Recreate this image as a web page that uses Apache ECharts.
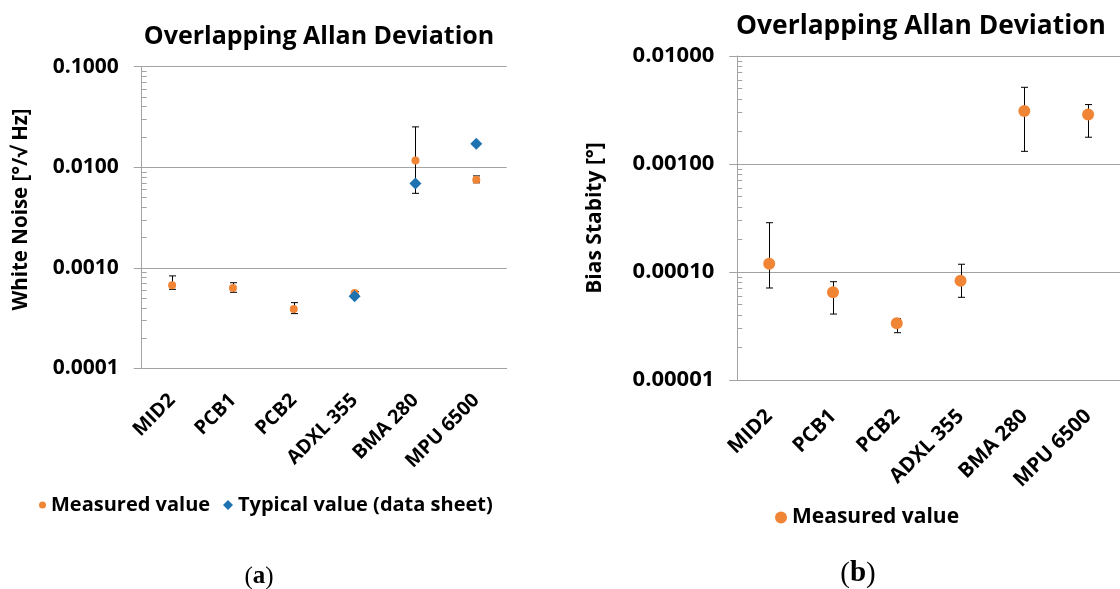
<!DOCTYPE html>
<html>
<head>
<meta charset="utf-8">
<script src="https://cdn.jsdelivr.net/npm/echarts@6/dist/echarts.min.js"></script>
<style>
html, body { margin: 0; padding: 0; background: #fff; }
#main { width: 1120px; height: 589px; }
</style>
</head>
<body>
<div id="main"></div>
<script>
var sensors = ['MID2', 'PCB1', 'PCB2', 'ADXL 355', 'BMA 280', 'MPU 6500'];

// (a) white noise
var noiseMeasured = [0.00067, 0.00063, 0.00039, 0.00056, 0.0117, 0.0075];
var noiseLow      = [0.00061, 0.00057, 0.00035, 0.00054, 0.0055, 0.0070];
var noiseHigh     = [0.00083, 0.00071, 0.00045, 0.00058, 0.0252, 0.0082];
var noiseTypical  = [null, null, null, 0.00052, 0.0069, 0.0171];
var noiseTicks    = [0.0001, 0.001, 0.01, 0.1];

// (b) bias stability
var biasMeasured = [0.000119, 0.0000648, 0.0000335, 0.0000831, 0.0031, 0.00288];
var biasLow      = [0.0000711, 0.0000408, 0.0000274, 0.0000583, 0.00131, 0.00177];
var biasHigh     = [0.000286, 0.0000813, 0.000037, 0.000118, 0.00513, 0.00355];
var biasTicks    = [0.00001, 0.0001, 0.001, 0.01];

var orange = '#F08536';
var blue = '#1F72B0';
var grey = '#A3A3A3';
var font = 'Open Sans';

function minorTicks(ticks) {
    var out = [];
    for (var i = 0; i < ticks.length - 1; i++) {
        for (var k = 2; k <= 9; k++) out.push(ticks[i] * k);
    }
    return out;
}

function errData(lo, hi) {
    return lo.map(function (v, i) { return [i, v, hi[i]]; });
}

function renderErr(params, api) {
    var a = api.coord([api.value(0), api.value(1)]);
    var b = api.coord([api.value(0), api.value(2)]);
    var x = Math.round(a[0]) + 0.5, w = 3.5;
    var st = { stroke: '#000', lineWidth: 1 };
    return {
        type: 'group',
        children: [
            { type: 'line', shape: { x1: x, y1: a[1], x2: x, y2: b[1] }, style: st },
            { type: 'line', shape: { x1: x - w, y1: a[1], x2: x + w, y2: a[1] }, style: st },
            { type: 'line', shape: { x1: x - w, y1: b[1], x2: x + w, y2: b[1] }, style: st }
        ]
    };
}

function xAxisFor(grid, size, margin) {
    return {
        type: 'category',
        gridIndex: grid,
        data: sensors,
        axisLine: { lineStyle: { color: grey } },
        axisTick: { length: 7, lineStyle: { color: grey } },
        axisLabel: {
            rotate: 45, margin: margin, interval: 0,
            color: '#000', fontFamily: font, fontWeight: 'bold', fontSize: size
        }
    };
}

function yAxisFor(grid, ticks, digits, size, name, nameSize, nameGap, namePad) {
    return {
        type: 'log', logBase: 10, gridIndex: grid,
        min: ticks[0], max: ticks[ticks.length - 1],
        name: name, nameLocation: 'middle', nameGap: nameGap,
        nameTextStyle: { color: '#000', fontFamily: font, fontWeight: 'bold', fontSize: nameSize, padding: namePad },
        axisLine: { show: true, lineStyle: { color: grey } },
        axisTick: { show: true, length: 8, customValues: ticks, lineStyle: { color: grey } },
        axisLabel: {
            customValues: ticks, margin: 23,
            color: '#000', fontFamily: font, fontWeight: 'bold', fontSize: size,
            formatter: function (v) { return Number(v).toFixed(digits); }
        },
        splitLine: { show: true, lineStyle: { color: grey, width: 1 } }
    };
}

function minorAxisFor(grid, ticks) {
    return {
        type: 'log', logBase: 10, gridIndex: grid, position: 'left',
        min: ticks[0], max: ticks[ticks.length - 1],
        axisLine: { show: false },
        axisLabel: { show: false },
        splitLine: { show: false },
        axisTick: { show: true, inside: true, length: 5, customValues: minorTicks(ticks), lineStyle: { color: grey } }
    };
}

var chart = echarts.init(document.getElementById('main'));
chart.setOption({
    animation: false,
    title: [
        { text: 'Overlapping Allan Deviation', left: 314, top: 19, textAlign: 'center',
          textStyle: { fontFamily: font, fontWeight: 'bold', fontSize: 25, color: '#000' } },
        { text: 'Overlapping Allan Deviation', left: 916, top: 8, textAlign: 'center',
          textStyle: { fontFamily: font, fontWeight: 'bold', fontSize: 26.4, color: '#000' } }
    ],
    legend: [
        { data: [{ name: 'Measured value', icon: 'circle', itemStyle: { color: orange } }],
          left: 34, top: 490, itemWidth: 7, itemHeight: 7,
          textStyle: { fontFamily: font, fontWeight: 'bold', fontSize: 20, color: '#000' } },
        { data: [{ name: 'Typical value (data sheet)', icon: 'diamond', itemStyle: { color: blue } }],
          left: 218, top: 490, itemWidth: 10, itemHeight: 10,
          textStyle: { fontFamily: font, fontWeight: 'bold', fontSize: 20, color: '#000' } },
        { data: [{ name: 'Measured value', icon: 'circle', itemStyle: { color: orange } }],
          left: 770, top: 502, itemWidth: 12, itemHeight: 12,
          textStyle: { fontFamily: font, fontWeight: 'bold', fontSize: 21, color: '#000' } }
    ],
    grid: [
        { left: 141.7, top: 66.7, width: 365, height: 301.6 },
        { left: 737.3, top: 56, width: 387.2, height: 324 }
    ],
    xAxis: [xAxisFor(0, 19.5, 29), xAxisFor(1, 20.5, 33)],
    yAxis: [
        yAxisFor(0, noiseTicks, 4, 21, 'White Noise [°/√ Hz]', 20.5, 110, [0, 0, 0, 16]),
        minorAxisFor(0, noiseTicks),
        yAxisFor(1, biasTicks, 5, 22, 'Bias Stabity [°]', 21, 132, 0),
        minorAxisFor(1, biasTicks)
    ],
    graphic: [
        { type: 'text', x: 259, y: 577, style: {
            text: '({b|a})', fill: '#000', font: '25px "Liberation Serif"',
            align: 'center', verticalAlign: 'middle',
            rich: { b: { fontFamily: 'Liberation Serif', fontWeight: 'bold', fontSize: 25 } } } },
        { type: 'text', x: 858, y: 574, style: {
            text: '({b|b})', fill: '#000', font: '29px "Liberation Serif"',
            align: 'center', verticalAlign: 'middle',
            rich: { b: { fontFamily: 'Liberation Serif', fontWeight: 'bold', fontSize: 29 } } } }
    ],
    series: [
        {
            type: 'custom', name: 'noise error', xAxisIndex: 0, yAxisIndex: 0,
            renderItem: renderErr, encode: { x: 0, y: [1, 2] },
            data: errData(noiseLow, noiseHigh), z: 2
        },
        {
            type: 'scatter', name: 'Measured value', xAxisIndex: 0, yAxisIndex: 0,
            symbol: 'circle', symbolSize: 8, itemStyle: { color: orange, opacity: 1 },
            data: noiseMeasured, z: 3
        },
        {
            type: 'scatter', name: 'Typical value (data sheet)', xAxisIndex: 0, yAxisIndex: 0,
            symbol: 'diamond', symbolSize: 12, itemStyle: { color: blue, opacity: 1 },
            data: noiseTypical, z: 4
        },
        {
            type: 'custom', name: 'bias error', xAxisIndex: 1, yAxisIndex: 2,
            renderItem: renderErr, encode: { x: 0, y: [1, 2] },
            data: errData(biasLow, biasHigh), z: 2
        },
        {
            type: 'scatter', name: 'Measured value', xAxisIndex: 1, yAxisIndex: 2,
            symbol: 'circle', symbolSize: 12, itemStyle: { color: orange, opacity: 1 },
            data: biasMeasured, z: 3
        }
    ]
});
</script>
</body>
</html>
